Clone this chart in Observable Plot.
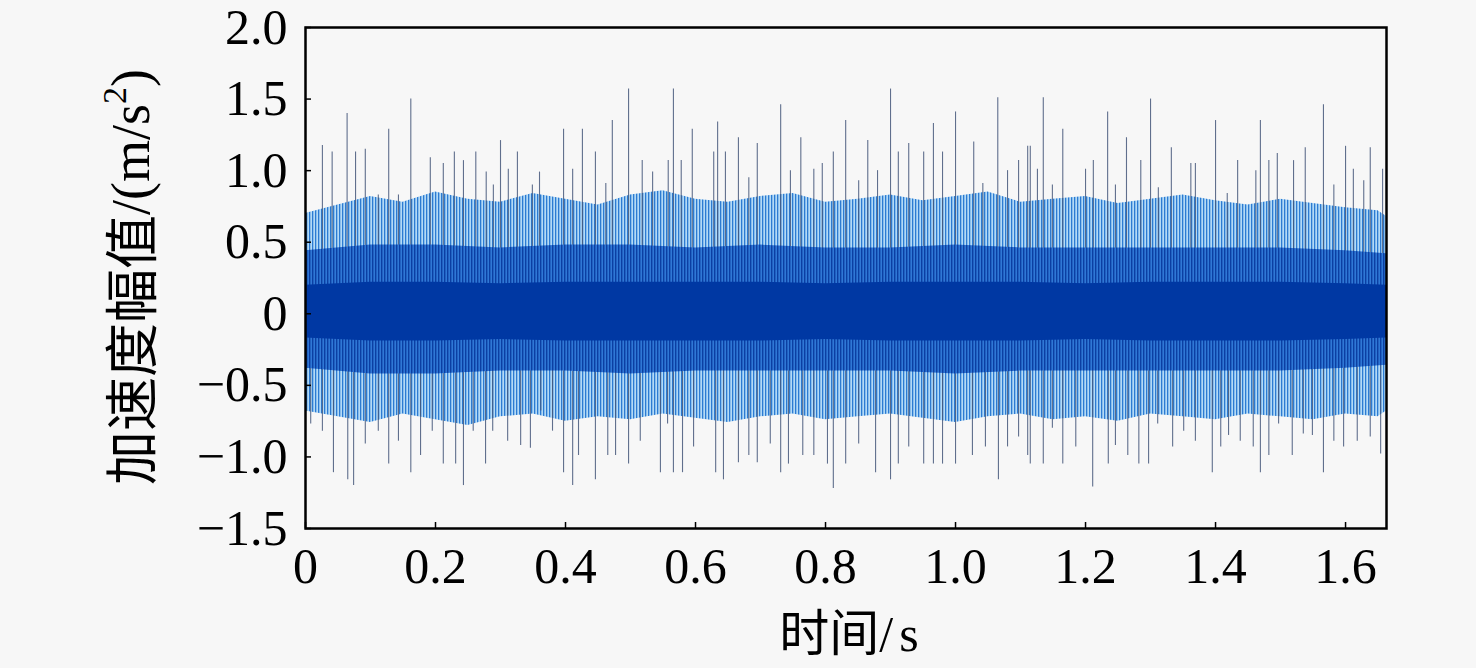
<!DOCTYPE html>
<html><head><meta charset="utf-8">
<script src="https://cdn.jsdelivr.net/npm/d3@7"></script>
<script src="https://cdn.jsdelivr.net/npm/@observablehq/plot@0.6"></script>
<style>
html,body{margin:0;padding:0;background:#f7f7f7;}
#chart{width:1476px;height:668px;}
</style></head><body><div id="chart"></div>
<script>
const xTicks = [0, 0.2, 0.4, 0.6, 0.8, 1.0, 1.2, 1.4, 1.6];
const yTicks = [-1.5, -1.0, -0.5, 0, 0.5, 1.0, 1.5, 2.0];

// tall positive spikes (time s, amplitude m/s^2)
const topT = [0.026,0.041,0.064,0.077,0.092,0.112,0.128,0.143,0.162,0.192,0.212,0.229,0.243,0.262,0.278,0.289,0.300,0.312,0.326,0.349,0.360,0.397,0.411,0.426,0.446,0.462,0.472,0.497,0.518,0.534,0.558,
0.566,0.578,0.595,0.628,0.634,0.646,0.666,0.682,0.695,0.731,0.746,0.762,0.782,0.795,0.812,0.831,0.851,0.865,0.880,0.900,0.912,0.928,0.951,0.966,0.980,1.000,1.028,1.042,1.065,1.080,1.097,1.111,
1.115,1.126,1.135,1.149,1.165,1.200,1.212,1.234,1.246,1.263,1.285,1.300,1.312,1.332,1.362,1.369,1.400,1.418,1.434,1.462,1.469,1.482,1.495,1.520,1.538,1.566,1.582,1.600,1.612,1.628,1.638,1.657];
const topV = [1.175,1.13,1.40,1.13,1.15,0.83,1.29,0.83,1.50,1.09,1.05,1.13,1.07,1.13,0.99,0.90,1.21,1.01,1.13,0.90,0.99,1.29,1.01,1.29,1.13,0.91,1.35,1.57,1.07,0.99,1.07,
1.57,1.07,1.29,1.13,1.34,1.13,1.23,0.95,1.19,1.46,1.00,1.23,1.01,1.05,1.13,1.35,0.93,1.21,1.00,1.57,1.13,1.19,1.13,1.33,1.13,1.41,1.20,0.91,1.51,1.00,1.07,1.17,
1.17,1.01,1.51,0.90,1.29,1.01,1.07,1.41,0.90,1.23,1.07,1.50,0.88,1.16,1.05,1.05,1.35,0.84,1.07,1.00,1.35,1.07,1.12,1.07,1.16,1.46,0.90,1.17,1.01,0.93,1.16,1.01];

// tall negative spikes
const botT = [0.008,0.026,0.043,0.065,0.074,0.092,0.112,0.128,0.143,0.162,0.177,0.195,0.212,0.231,0.243,0.258,0.277,0.288,0.311,0.331,0.346,0.362,0.380,0.397,0.411,0.420,0.446,0.465,0.477,0.497,0.515,0.546,0.557,
0.566,0.580,0.597,0.631,0.643,0.666,0.682,0.695,0.715,0.731,0.743,0.765,0.782,0.803,0.812,0.831,0.851,0.877,0.900,0.912,0.928,0.951,0.966,0.980,1.000,1.026,1.046,1.066,1.080,1.097,1.111,
1.115,1.135,1.149,1.165,1.185,1.211,1.235,1.246,1.265,1.282,1.297,1.311,1.334,1.351,1.369,1.395,1.408,1.420,1.438,1.458,1.469,1.482,1.497,1.518,1.535,1.549,1.566,1.582,1.597,1.618,1.638,1.654];
const botV = [-0.77,-0.82,-1.11,-1.16,-1.20,-0.91,-0.82,-1.05,-0.89,-1.11,-0.99,-0.82,-1.05,-1.05,-1.20,-0.82,-1.05,-0.82,-0.89,-0.92,-0.94,-0.68,-0.82,-1.11,-1.20,-0.99,-1.16,-0.99,-0.99,-1.05,-0.89,-1.11,-0.77,
-1.11,-1.11,-0.93,-1.11,-1.16,-1.04,-0.99,-1.04,-0.91,-1.11,-1.05,-0.99,-0.99,-1.05,-1.22,-1.05,-0.91,-1.11,-1.16,-1.05,-0.93,-1.05,-1.05,-1.05,-1.05,-0.99,-0.93,-1.16,-0.93,-0.86,-0.99,
-1.05,-1.05,-0.80,-1.05,-0.93,-1.21,-1.05,-0.92,-0.99,-1.05,-1.05,-0.77,-0.93,-0.82,-0.89,-1.11,-0.93,-0.85,-0.89,-0.93,-1.11,-0.99,-0.77,-0.99,-0.84,-0.85,-1.11,-0.89,-0.93,-0.89,-0.86,-0.98];

// outer (light) envelope of the dense oscillation
const lightT  = [0,0.05,0.1,0.15,0.2,0.25,0.3,0.35,0.4,0.45,0.5,0.55,0.6,0.65,0.7,0.75,0.8,0.85,0.9,0.95,1.0,1.05,1.1,1.15,1.2,1.25,1.3,1.35,1.4,1.45,1.5,1.55,1.6,1.65,1.663];
const lightHi = [0.70,0.76,0.82,0.78,0.85,0.80,0.78,0.84,0.80,0.76,0.83,0.86,0.80,0.78,0.82,0.84,0.78,0.80,0.83,0.79,0.82,0.85,0.78,0.80,0.82,0.77,0.80,0.83,0.79,0.76,0.80,0.77,0.74,0.72,0.68];
const lightLo = [-0.68,-0.72,-0.76,-0.70,-0.74,-0.78,-0.72,-0.70,-0.75,-0.72,-0.74,-0.70,-0.73,-0.76,-0.72,-0.70,-0.74,-0.72,-0.70,-0.73,-0.76,-0.72,-0.70,-0.74,-0.72,-0.75,-0.70,-0.72,-0.74,-0.70,-0.72,-0.74,-0.70,-0.72,-0.68];
// inner envelopes
const envT    = [0,0.1,0.2,0.3,0.4,0.5,0.6,0.7,0.8,0.9,1.0,1.1,1.2,1.3,1.4,1.5,1.6,1.663];
const midHi   = [0.44,0.48,0.48,0.46,0.48,0.48,0.46,0.48,0.46,0.46,0.48,0.46,0.46,0.46,0.46,0.46,0.44,0.42];
const midLo   = [-0.38,-0.42,-0.42,-0.40,-0.40,-0.42,-0.40,-0.40,-0.40,-0.40,-0.42,-0.40,-0.40,-0.40,-0.40,-0.40,-0.38,-0.36];
const coreHi  = [0.20,0.22,0.22,0.21,0.22,0.22,0.22,0.22,0.21,0.22,0.22,0.22,0.21,0.22,0.22,0.22,0.21,0.20];
const coreLo  = [-0.17,-0.19,-0.19,-0.18,-0.19,-0.19,-0.19,-0.19,-0.18,-0.19,-0.19,-0.19,-0.18,-0.19,-0.19,-0.19,-0.18,-0.17];

const spikes = topT.map((t,i)=>({t, v: topV[i]})).concat(botT.map((t,i)=>({t, v: botV[i]})));
const light = lightT.map((t,i)=>({t, hi: lightHi[i], lo: lightLo[i]}));
const env = envT.map((t,i)=>({t, mh: midHi[i], ml: midLo[i], ch: coreHi[i], cl: coreLo[i]}));

const W = 1476, H = 668, mL = 305, mR = 90, mT = 27, mB = 140;
const fmtY = d => d === 0 ? "0" : (d < 0 ? "\u2212" : "") + Math.abs(d).toFixed(1);
const fmtX = d => d === 0 ? "0" : d.toFixed(1);

const chart = Plot.plot({
  width: W, height: H,
  marginLeft: mL, marginRight: mR, marginTop: mT, marginBottom: mB,
  x: {domain: [0, 1.663]},
  y: {domain: [-1.5, 2.0]},
  style: {fontFamily: '"Liberation Serif","Times New Roman",serif', fontSize: "50px", background: "#f7f7f7", color: "black", overflow: "visible"},
  marks: [
    Plot.areaY(light, {x: "t", y1: "lo", y2: "hi", fill: "url(#lightStripes)"}),
    Plot.ruleX(spikes, {x: "t", y1: 0, y2: "v", stroke: "#45577a", strokeWidth: 1.1, strokeOpacity: 0.85}),
    Plot.areaY(env, {x: "t", y1: "ml", y2: "mh", fill: "url(#midStripes)"}),
    Plot.areaY(env, {x: "t", y1: "cl", y2: "ch", fill: "#0038a3"}),
    Plot.ruleX(xTicks, {x: d => d, insetTop: H - mT - mB - 6, stroke: "black", strokeWidth: 1.5}),
    Plot.ruleY(yTicks, {y: d => d, insetRight: W - mL - mR - 6, stroke: "black", strokeWidth: 1.5}),
    Plot.axisX(xTicks, {tickSize: 0, tickPadding: 19, tickFormat: fmtX, label: null}),
    Plot.axisY(yTicks, {tickSize: 0, tickPadding: 18, tickFormat: fmtY, label: null}),
    Plot.frame({stroke: "black", strokeWidth: 2.5})
  ]
});
document.getElementById("chart").appendChild(chart);

const svg = d3.select(chart);
const defs = svg.insert("defs", ":first-child");
const p1 = defs.append("pattern").attr("id", "lightStripes").attr("width", 3).attr("height", 10).attr("patternUnits", "userSpaceOnUse");
p1.append("rect").attr("width", 3).attr("height", 10).attr("fill", "#b3daf6");
p1.append("rect").attr("width", 1.3).attr("height", 10).attr("fill", "#2c7bd2");
const p2 = defs.append("pattern").attr("id", "midStripes").attr("width", 3).attr("height", 10).attr("patternUnits", "userSpaceOnUse");
p2.append("rect").attr("width", 3).attr("height", 10).attr("fill", "#2f78d6");
p2.append("rect").attr("width", 1.4).attr("height", 10).attr("fill", "#0b3fa3");

const yl = svg.append("text")
  .attr("transform", "translate(137,277) rotate(-90)")
  .attr("text-anchor", "middle")
  .attr("dominant-baseline", "middle")
  .attr("font-size", 54)
  .attr("fill", "black");
yl.append("tspan").attr("font-family", '"Noto Sans CJK SC",sans-serif').text("加速度幅值");
yl.append("tspan").attr("font-family", '"Liberation Serif",serif').text("/(m/s");
yl.append("tspan").attr("font-family", '"Liberation Serif",serif').attr("font-size", 34).attr("dy", "-0.55em").text("2");
yl.append("tspan").attr("font-family", '"Liberation Serif",serif').attr("dy", "0.35em").text(")");

const xl = svg.append("text")
  .attr("x", 852).attr("y", 651)
  .attr("text-anchor", "middle")
  .attr("font-size", 50)
  .attr("fill", "black");
xl.append("tspan").attr("font-family", '"Noto Sans CJK SC",sans-serif').text("时间");
xl.append("tspan").attr("font-family", '"Liberation Serif",serif').attr("letter-spacing", 6).text("/s");
</script>
</body></html>
